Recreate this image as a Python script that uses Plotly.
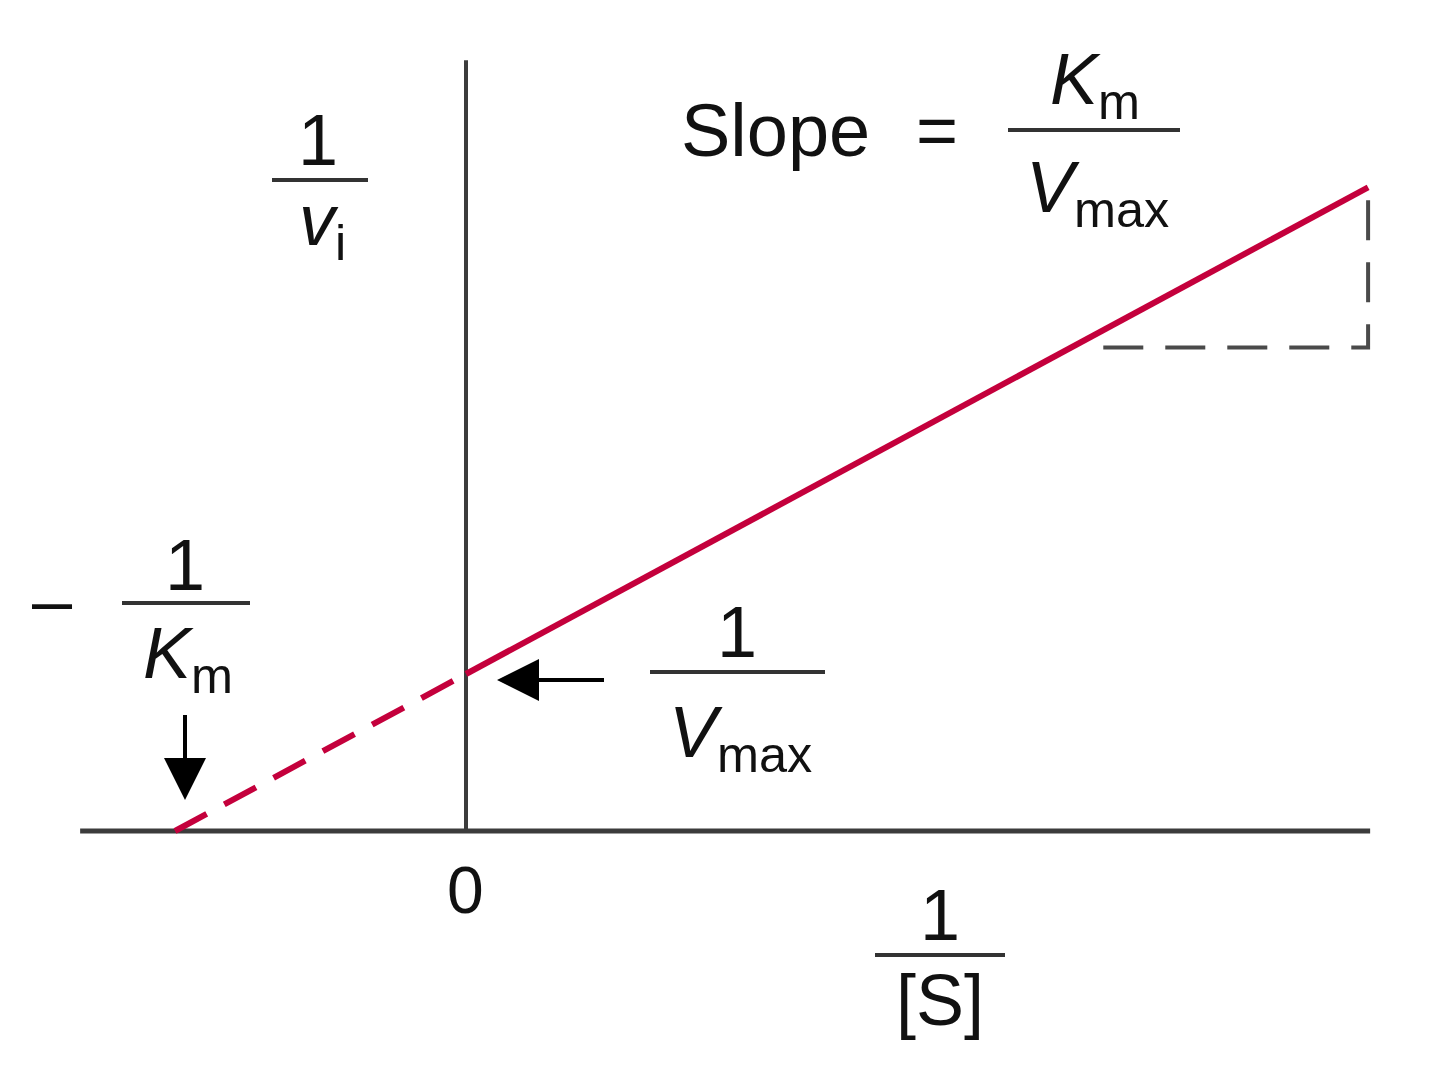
import plotly.graph_objects as go

# Lineweaver-Burk plot, arbitrary units (1/Km = 1, 1/Vmax = 1)
inv_km = 1.0
inv_vmax = 1.0
slope = inv_vmax / inv_km          # Km / Vmax
x_end = 3.1

x_dash = [-inv_km, 0.0]
y_dash = [inv_vmax + slope * x for x in x_dash]
x_solid = [0.0, x_end]
y_solid = [inv_vmax + slope * x for x in x_solid]

x_tri = [2.19, x_end, x_end]
y_tri = [3.08, 3.08, 4.06]

x_axis_x = [-1.326, 3.107]
x_axis_y = [0, 0]
y_axis_x = [0, 0]
y_axis_y = [0, 4.91]

W, H = 1440, 1086
OFF = 8  # page margin around the plot
RED = "#c4003c"
AX = "#3c3c3c"
FONT = "Liberation Sans, Arial, Helvetica, sans-serif"


def px(x):
    return (x - OFF) / W


def py(y):
    return 1 - (y - OFF) / H


fig = go.Figure()
fig.add_trace(go.Scatter(x=x_axis_x, y=x_axis_y, mode="lines",
                         line=dict(color=AX, width=5)))
fig.add_trace(go.Scatter(x=y_axis_x, y=y_axis_y, mode="lines",
                         line=dict(color=AX, width=4)))
fig.add_trace(go.Scatter(x=x_tri, y=y_tri, mode="lines",
                         line=dict(color="#4a4a4a", width=4, dash="40px,22px")))
fig.add_trace(go.Scatter(x=x_dash, y=y_dash, mode="lines",
                         line=dict(color=RED, width=6, dash="36px,20px")))
fig.add_trace(go.Scatter(x=x_solid, y=y_solid, mode="lines",
                         line=dict(color=RED, width=6)))

texts = [
    ("1", 318, 140, 72),
    ("<i>v</i><sub>i</sub>", 322, 225, 72),
    ("Slope", 775, 130, 74),
    ("=", 937, 130, 72),
    ("<i>K</i><sub>m</sub>", 1095, 85, 72),
    ("<i>V</i><sub>max</sub>", 1097, 192, 72),
    ("\u2013", 52, 600, 72),
    ("1", 185, 565, 72),
    ("<i>K</i><sub>m</sub>", 188, 658, 72),
    ("1", 737, 632, 72),
    ("<i>V</i><sub>max</sub>", 740, 737, 72),
    ("0", 465, 890, 66),
    ("1", 940, 915, 72),
    ("[S]", 940, 1000, 72),
]
for t, x, y, s in texts:
    fig.add_annotation(text=t, x=px(x), y=py(y), xref="paper", yref="paper",
                       showarrow=False, xanchor="center", yanchor="middle",
                       font=dict(family=FONT, size=s, color="#111"))

bars = [(272, 368, 180), (1008, 1180, 130), (122, 250, 603),
        (650, 825, 672), (875, 1005, 955)]
for x0, x1, y in bars:
    fig.add_shape(type="line", xref="paper", yref="paper",
                  x0=px(x0), x1=px(x1), y0=py(y), y1=py(y),
                  line=dict(color="#333", width=4))

# arrows
fig.add_annotation(x=px(185), y=py(800), xref="paper", yref="paper",
                   ax=0, ay=-95, showarrow=True, arrowhead=2, arrowsize=2.1,
                   arrowwidth=4, arrowcolor="#000", standoff=0, text=" ")
fig.add_annotation(x=px(497), y=py(680), xref="paper", yref="paper",
                   ax=110, ay=0, showarrow=True, arrowhead=2, arrowsize=2.1,
                   arrowwidth=4, arrowcolor="#000", standoff=0, text=" ")

fig.update_layout(
    width=W, height=H,
    margin=dict(l=0, r=0, t=0, b=0),
    paper_bgcolor="white", plot_bgcolor="white",
    showlegend=False,
    xaxis=dict(range=[-(466 - OFF) / 291, (W - 466 + OFF) / 291],
               visible=False, fixedrange=True),
    yaxis=dict(range=[(831 - OFF - H) / 157, (831 - OFF) / 157],
               visible=False, fixedrange=True),
)

fig.write_html("out.html", config={"displayModeBar": False})
